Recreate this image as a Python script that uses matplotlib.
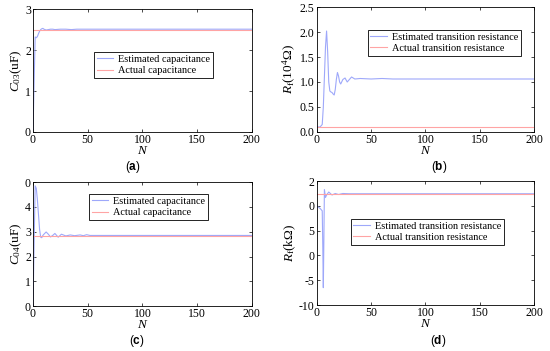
import matplotlib
matplotlib.use("Agg")
import matplotlib.pyplot as plt

plt.rcParams['font.family'] = ['Liberation Serif', 'DejaVu Serif']
plt.rcParams['mathtext.fontset'] = 'custom'
plt.rcParams['mathtext.rm'] = 'Liberation Serif'
plt.rcParams['mathtext.it'] = 'Liberation Serif:italic'
plt.rcParams['mathtext.bf'] = 'Liberation Sans:bold'

# (a) C03 estimation
n_a = [0, 1, 2, 3, 4, 5, 6, 7, 8, 9, 10, 12, 14, 16, 18, 20, 25, 30, 35, 40, 45, 50, 200]
est_a = [0, 1.2, 2.32, 2.30, 2.33, 2.40, 2.46, 2.50, 2.52, 2.53, 2.51, 2.49, 2.50,
         2.51, 2.51, 2.50, 2.51, 2.51, 2.50, 2.51, 2.51, 2.51, 2.51]
act_a = 2.49

# (b) Rf estimation (10^4 ohm)
n_b = [0, 3, 5, 6, 7, 8, 9, 10, 11, 12, 13, 14, 15, 16, 17, 18, 19, 20, 21, 22, 24,
       26, 28, 30, 32, 35, 40, 50, 60, 70, 80, 200]
est_b = [0.1, 0.1, 0.15, 0.5, 1.1, 1.7, 2.02, 1.6, 1.0, 0.82, 0.80, 0.79, 0.76, 0.74,
         0.85, 1.05, 1.19, 1.12, 1.0, 0.96, 1.05, 1.08, 1.0, 1.05, 1.1, 1.06, 1.07,
         1.06, 1.07, 1.06, 1.06, 1.06]
act_b = 0.1

# (c) C04 estimation
n_c = [0, 1, 2, 3, 4, 5, 6, 7, 8, 9, 10, 12, 14, 16, 18, 20, 23, 26, 30, 34, 38, 43,
       46, 49, 52, 60, 200]
est_c = [0, 2.5, 4.85, 4.75, 4.3, 3.7, 3.1, 2.78, 2.76, 2.85, 2.9, 2.99, 2.9, 2.79,
         2.85, 2.93, 2.78, 2.9, 2.83, 2.87, 2.84, 2.87, 2.84, 2.88, 2.85, 2.85, 2.85]
act_c = 2.82

# (d) Rf estimation (kOhm)
n_d = [0, 1, 3, 5, 5.5, 6, 6.5, 7, 8, 9, 11, 14, 17, 20, 24, 30, 200]
est_d = [10.2, 9.8, 9.5, 9.0, 2.0, -6.5, 3.0, 13.3, 11.7, 12.2, 12.8, 12.2, 12.5,
         12.3, 12.5, 12.45, 12.45]
act_d = 12.45

xticks = [0, 50, 100, 150, 200]
yticks_a = [0, 1, 2, 3]
yticks_b = [0, 0.5, 1, 1.5, 2, 2.5]
yticks_c = [0, 1, 2, 3, 4, 5]
ytlabels_c = ['0', '1', '2', '3', '4', '0']
yticks_d = [-10, -5, 0, 5, 10, 15]
ytlabels_d = ['-10', '-5', '0', '5', '0', '2']

blue = '#9ea8fa'
red = '#ffa4a4'

fig = plt.figure(figsize=(5.5, 3.51), dpi=100)

panels = [
    # rect, n, est, act, ylim, yticks, yticklabels, ylabel, labels, legend anchor, tag, tag pos
    ([0.060, 0.624, 0.398, 0.350], n_a, est_a, act_a, (0, 3), yticks_a, None,
     r'$C_{\mathrm{03}}$(uF)', ['Estimated capacitance', 'Actual capacitance'],
     (0.279, 0.65), 'a', (133, 167)),
    ([0.576, 0.624, 0.395, 0.356], n_b, est_b, act_b, (0, 2.5), yticks_b, None,
     r'$R_{\mathrm{f}}$(10$^4$Ω)', ['Estimated transition resistance', 'Actual transition resistance'],
     (0.235, 0.816), 'b', (439, 167)),
    ([0.060, 0.128, 0.398, 0.353], n_c, est_c, act_c, (0, 5), yticks_c, ytlabels_c,
     r'$C_{\mathrm{04}}$(uF)', ['Estimated capacitance', 'Actual capacitance'],
     (0.256, 0.903), 'c', (137, 341)),
    ([0.576, 0.131, 0.395, 0.353], n_d, est_d, act_d, (-10, 15), yticks_d, ytlabels_d,
     r'$R_{\mathrm{f}}$(kΩ)', ['Estimated transition resistance', 'Actual transition resistance'],
     (0.157, 0.694), 'd', (438, 341)),
]

for rect, n, est, act, ylim, yt, ytl, ylab, labels, anchor, tag, tpos in panels:
    ax = fig.add_axes(rect)
    ax.plot(n, est, color=blue, lw=0.8, label=labels[0])
    ax.plot([0, 200], [act, act], color=red, lw=0.8, label=labels[1])
    ax.set_xlim(0, 200)
    ax.set_ylim(*ylim)
    ax.set_xticks(xticks)
    ax.set_yticks(yt)
    if ytl is not None:
        ax.set_yticklabels(ytl)
    ax.tick_params(direction='in', length=2.5, width=0.5, labelsize=8.5,
                   top=True, right=True, pad=1.5)
    for sp in ax.spines.values():
        sp.set_linewidth(0.6)
    ax.set_xlabel(r'$N$', fontsize=9.5, labelpad=-1)
    ax.set_ylabel(ylab, fontsize=9.5, labelpad=1)
    leg = ax.legend(loc='upper left', bbox_to_anchor=anchor, fontsize=7.4,
                    fancybox=False, edgecolor='black', framealpha=1,
                    borderpad=0.25, labelspacing=0.2, handlelength=1.6,
                    handletextpad=0.5, borderaxespad=0)
    leg.get_frame().set_linewidth(0.6)
    fig.text(tpos[0] / 550, 1 - tpos[1] / 351, '($\\mathbf{%s}$)' % tag,
             family='Liberation Sans', fontsize=8.5, ha='center', va='center')

fig.savefig('out.png', dpi=100)
